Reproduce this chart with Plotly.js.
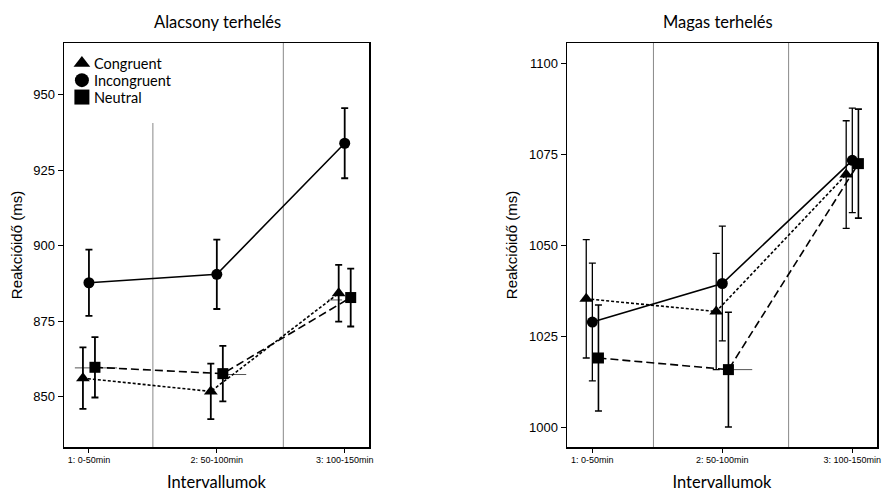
<!DOCTYPE html>
<html>
<head>
<meta charset="utf-8">
<script src="https://cdn.plot.ly/plotly-3.0.1.min.js"></script>
<style>html,body{margin:0;padding:0;background:#fff;}#chart{width:882px;height:493px;}</style>
</head>
<body>
<div id="chart"></div>
<script>
// ---- data ----
const categories = [1, 2, 3];
const tickLabels = ["1: 0-50min", "2: 50-100min", "3: 100-150min"];
const seriesNames = ["Congruent", "Incongruent", "Neutral"];

// Alacsony terhelés (low load)
const lowCongruent = [856.2, 851.8, 884.3];
const lowCongruentErr = [10.2, 9.2, 9.4];
const lowIncongruent = [887.8, 890.6, 934.0];
const lowIncongruentErr = [11.0, 11.5, 11.6];
const lowNeutral = [859.8, 857.7, 882.9];
const lowNeutralErr = [10.0, 9.2, 9.6];

// Magas terhelés (high load)
const highCongruent = [1035.3, 1031.8, 1069.5];
const highCongruentErr = [16.3, 16.0, 14.8];
const highIncongruent = [1028.9, 1039.5, 1073.4];
const highIncongruentErr = [16.2, 15.8, 14.4];
const highNeutral = [1019.0, 1015.8, 1072.5];
const highNeutralErr = [14.6, 15.8, 15.0];

// small horizontal artefact strokes seen next to Neutral markers
const lowStrayX = [0.89, 1.22, null, 2.05, 2.23, null, 2.87, 2.98];
const lowStrayY = [859.6, 859.6, null, 857.4, 857.4, null, 882.1, 882.1];
const highStrayX = [2.05, 2.23];
const highStrayY = [1015.8, 1015.8];

// interval separators
const lowSeparators = [1.5, 2.52];
const lowSeparatorTop = [940.7, 967.2];
const highSeparators = [1.47, 2.51];

const lowTicks = [850, 875, 900, 925, 950];
const highTicks = [1000, 1025, 1050, 1075, 1100];

// ---- styling ----
const offset = {Congruent: -0.047, Incongruent: 0, Neutral: 0.047};
const symbol = {Congruent: "triangle-up", Incongruent: "circle", Neutral: "square"};
const msize = {Congruent: 12, Incongruent: 11, Neutral: 11};
const legSize = {Congruent: 14.5, Incongruent: 14, Neutral: 15};
const dash = {Congruent: "3px,2px", Incongruent: "solid", Neutral: "8px,4px"};

function mk(name, ys, errs, xa, ya, thick) {
  return {
    type: "scatter", mode: "lines+markers", name: name, showlegend: false,
    x: categories.map(c => c + offset[name]), y: ys,
    xaxis: xa, yaxis: ya,
    line: {color: "#000", width: 1.6, dash: dash[name]},
    marker: {symbol: symbol[name], size: msize[name], color: "#000"},
    error_y: {type: "data", array: errs, visible: true, color: "#000", thickness: thick, width: 3.5},
    cliponaxis: false
  };
}

const traces = [
  {type: "scatter", mode: "lines", x: lowStrayX, y: lowStrayY, xaxis: "x", yaxis: "y",
   line: {color: "#555", width: 1}, showlegend: false, hoverinfo: "skip"},
  {type: "scatter", mode: "lines", x: highStrayX, y: highStrayY, xaxis: "x2", yaxis: "y2",
   line: {color: "#555", width: 1}, showlegend: false, hoverinfo: "skip"},
  mk("Congruent", lowCongruent, lowCongruentErr, "x", "y", 1.8),
  mk("Incongruent", lowIncongruent, lowIncongruentErr, "x", "y", 1.8),
  mk("Neutral", lowNeutral, lowNeutralErr, "x", "y", 1.8),
  mk("Congruent", highCongruent, highCongruentErr, "x2", "y2", 1.3),
  mk("Incongruent", highIncongruent, highIncongruentErr, "x2", "y2", 1.3),
  mk("Neutral", highNeutral, highNeutralErr, "x2", "y2", 1.6)
];

// ---- in-plot legend (top-left of the left panel) ----
const legX = 0.945;                 // axis units of left panel
const legY0 = 960.5, legStep = 5.6; // axis units of left panel
const annotations = [];
seriesNames.forEach((n, i) => {
  traces.push({
    type: "scatter", mode: "markers", x: [legX], y: [legY0 - i * legStep],
    xaxis: "x", yaxis: "y", showlegend: false, hoverinfo: "skip", cliponaxis: false,
    marker: {symbol: symbol[n], size: legSize[n], color: "#000"}
  });
  annotations.push({
    text: n, xref: "x", yref: "y", x: legX + 0.078, y: legY0 - i * legStep,
    xanchor: "left", yanchor: "middle", showarrow: false,
    font: {family: "Lato, sans-serif", size: 14.5, color: "#000"}
  });
});

const shapes = [];
lowSeparators.forEach((sx, i) => shapes.push({
  type: "line", xref: "x", yref: "y", x0: sx, x1: sx, y0: 833.4, y1: lowSeparatorTop[i],
  line: {color: "#888", width: 1}, layer: "below"
}));
highSeparators.forEach(sx => shapes.push({
  type: "line", xref: "x2", yref: "y2", x0: sx, x1: sx, y0: 994.5, y1: 1105.7,
  line: {color: "#888", width: 1}, layer: "below"
}));

const tickFont = {family: "Liberation Sans, Arial, sans-serif", size: 9, color: "#000"};
const yTickFont = {family: "Liberation Sans, Arial, sans-serif", size: 13, color: "#000"};
const yTitleFont = {family: "Liberation Sans, Arial, sans-serif", size: 15, color: "#000"};
const titleFont = {family: "Lato, sans-serif", size: 16.5, color: "#000"};

function xAxis(domain, anchor) {
  return {
    domain: domain, anchor: anchor, range: [0.805, 3.19],
    tickmode: "array", tickvals: categories, ticktext: tickLabels,
    ticks: "outside", ticklen: 4, tickwidth: 1, tickcolor: "#000",
    showline: true, linecolor: "#000", linewidth: 1.5, mirror: true,
    showgrid: false, zeroline: false, tickfont: tickFont,
    title: {text: "Intervallumok", font: titleFont, standoff: 12}
  };
}
function yAxis(domain, anchor, range, ticks) {
  return {
    domain: domain, anchor: anchor, range: range,
    tickmode: "array", tickvals: ticks,
    ticks: "outside", ticklen: 5, tickwidth: 1, tickcolor: "#000",
    showline: true, linecolor: "#000", linewidth: 1.5, mirror: true,
    showgrid: false, zeroline: false, tickfont: yTickFont,
    title: {text: "Reakcióidő (ms)", font: yTitleFont, standoff: 7}
  };
}

annotations.push(
  {text: "Alacsony terhelés", xref: "paper", yref: "paper", x: 217 / 882, y: 1 - 22 / 493,
   xanchor: "center", yanchor: "middle", showarrow: false, font: titleFont},
  {text: "Magas terhelés", xref: "paper", yref: "paper", x: 718 / 882, y: 1 - 22 / 493,
   xanchor: "center", yanchor: "middle", showarrow: false, font: titleFont}
);

const yDom = [46 / 493, 450 / 493];
const layout = {
  width: 882, height: 493,
  margin: {l: 0, r: 0, t: 0, b: 0},
  paper_bgcolor: "#fff", plot_bgcolor: "#fff",
  xaxis: xAxis([64 / 882, 369 / 882], "y"),
  yaxis: yAxis(yDom, "x", [833.4, 967.2], lowTicks),
  xaxis2: xAxis([567 / 882, 877 / 882], "y2"),
  yaxis2: yAxis(yDom, "x2", [994.5, 1105.7], highTicks),
  shapes: shapes,
  showlegend: false,
  annotations: annotations
};

Plotly.newPlot("chart", traces, layout, {displayModeBar: false, staticPlot: true});
</script>
</body>
</html>
